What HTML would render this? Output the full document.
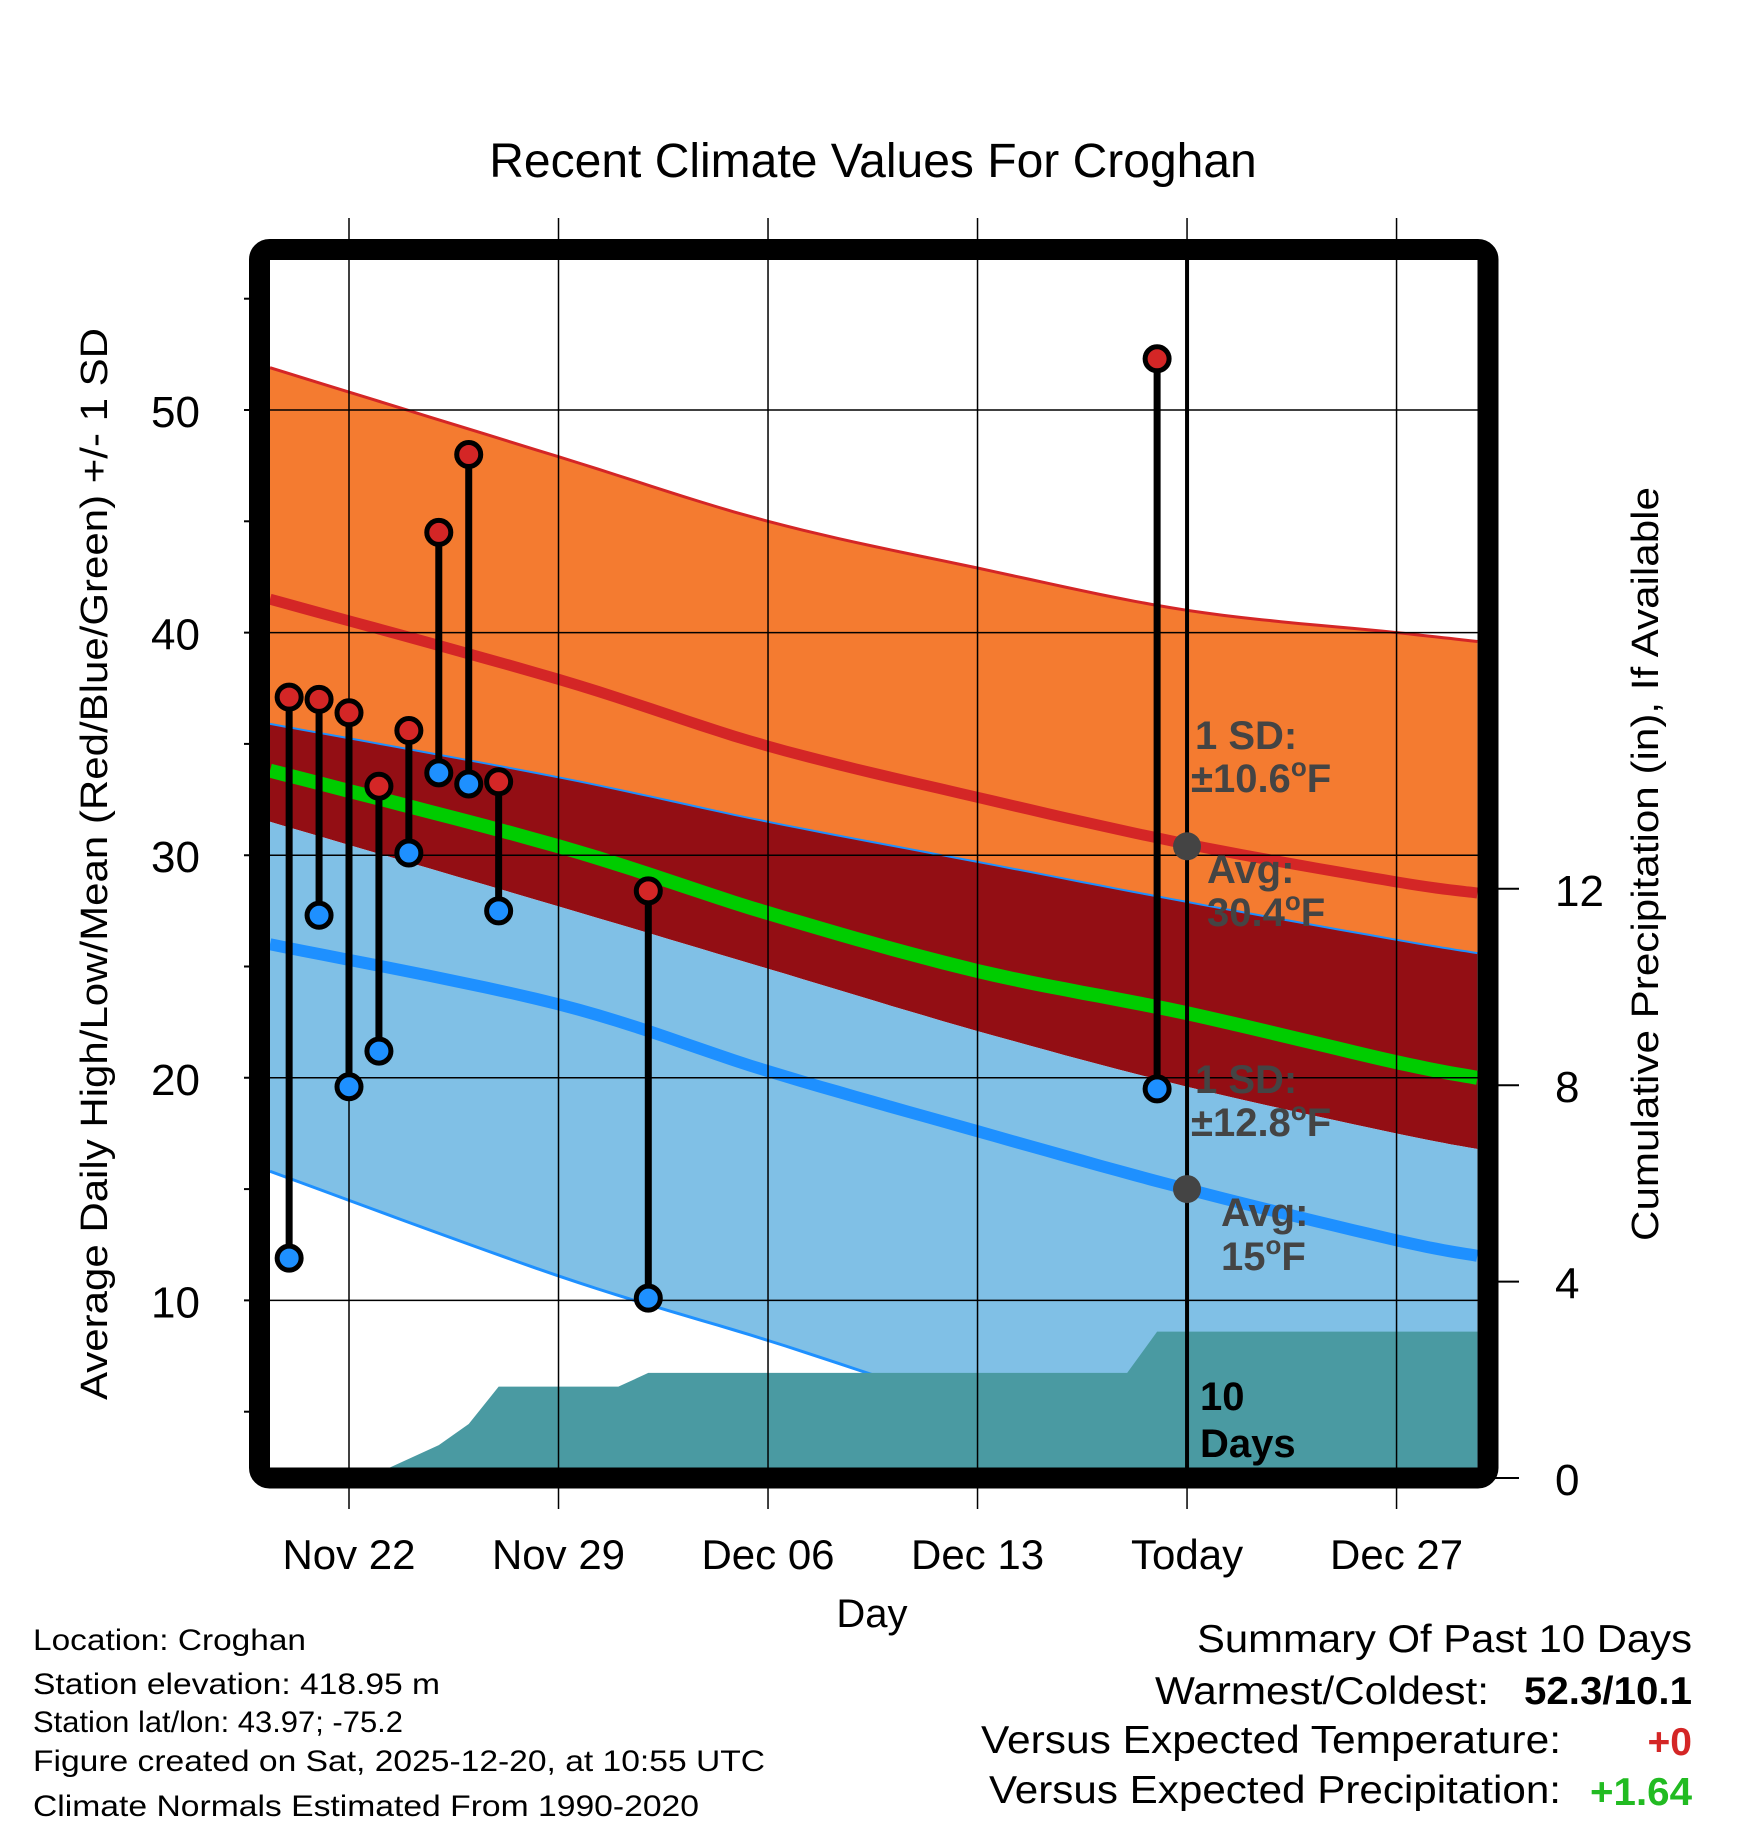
<!DOCTYPE html>
<html><head><meta charset="utf-8"><style>
body{margin:0;background:#fff}
svg{display:block;font-family:"Liberation Sans",Arial,sans-serif}
</style></head><body>
<svg id="chart" width="1748" height="1828" viewBox="0 0 1748 1828" xmlns="http://www.w3.org/2000/svg">
<defs><clipPath id="plotclip"><rect x="270" y="260" width="1208" height="1208"/></clipPath></defs>
<text x="873" y="177" font-size="48" text-anchor="middle">Recent Climate Values For Croghan</text>
<g id="bands" clip-path="url(#plotclip)"></g>
<g id="grid"></g>
<g id="marks"></g>
<g id="labels"></g>
<rect x="259.5" y="249.5" width="1228.5" height="1228.5" rx="10" fill="none" stroke="#000" stroke-width="21"/>
<text transform="translate(107,864) rotate(-90)" font-size="38" text-anchor="middle" textLength="1072" lengthAdjust="spacingAndGlyphs">Average Daily High/Low/Mean (Red/Blue/Green) +/- 1 SD</text>
<text transform="translate(1658,864) rotate(-90)" font-size="38" text-anchor="middle" textLength="754" lengthAdjust="spacingAndGlyphs">Cumulative Precipitation (in), If Available</text>
<text x="872" y="1627" font-size="40" text-anchor="middle">Day</text>
<g font-size="30">
<text x="33" y="1650" textLength="273" lengthAdjust="spacingAndGlyphs">Location: Croghan</text>
<text x="33" y="1694" textLength="407" lengthAdjust="spacingAndGlyphs">Station elevation: 418.95 m</text>
<text x="33" y="1732" textLength="370" lengthAdjust="spacingAndGlyphs">Station lat/lon: 43.97; -75.2</text>
<text x="33" y="1771" textLength="732" lengthAdjust="spacingAndGlyphs">Figure created on Sat, 2025-12-20, at 10:55 UTC</text>
<text x="33" y="1816" textLength="666" lengthAdjust="spacingAndGlyphs">Climate Normals Estimated From 1990-2020</text>
</g>
<g font-size="39">
<text x="1692" y="1652" text-anchor="end" textLength="495" lengthAdjust="spacingAndGlyphs">Summary Of Past 10 Days</text>
<text x="1489" y="1704" text-anchor="end" textLength="334" lengthAdjust="spacingAndGlyphs">Warmest/Coldest:</text>
<text x="1692" y="1704" text-anchor="end" font-weight="bold" textLength="168" lengthAdjust="spacingAndGlyphs">52.3/10.1</text>
<text x="1561" y="1753" text-anchor="end" textLength="580" lengthAdjust="spacingAndGlyphs">Versus Expected Temperature:</text>
<text x="1692" y="1755" text-anchor="end" font-weight="bold" fill="#d42626">+0</text>
<text x="1561" y="1803" text-anchor="end" textLength="572" lengthAdjust="spacingAndGlyphs">Versus Expected Precipitation:</text>
<text x="1692" y="1805" text-anchor="end" font-weight="bold" fill="#22bb22" textLength="102" lengthAdjust="spacingAndGlyphs">+1.64</text>
</g>
<g font-size="40" font-weight="bold" fill="#444">
<text x="1195" y="749">1 SD:</text>
<text x="1191" y="792">±10.6<tspan font-size="26" dy="-16">o</tspan><tspan dy="16">F</tspan></text>
<text x="1207" y="883">Avg:</text>
<text x="1207" y="926">30.4<tspan font-size="26" dy="-16">o</tspan><tspan dy="16">F</tspan></text>
<text x="1195" y="1093">1 SD:</text>
<text x="1191" y="1136">±12.8<tspan font-size="26" dy="-16">o</tspan><tspan dy="16">F</tspan></text>
<text x="1221" y="1226">Avg:</text>
<text x="1221" y="1270">15<tspan font-size="26" dy="-16">o</tspan><tspan dy="16">F</tspan></text>
<text x="1200" y="1410" fill="#000">10</text>
<text x="1200" y="1457" fill="#000">Days</text>
</g>
</svg>
<script>
// days relative to Nov 22 (0); Today = Dec 20 = 28
const bandDays   = [-2.64, 7, 14, 21, 28, 35, 37.7];
const sdTop      = [51.9, 47.9, 45.0, 42.9, 41.0, 40.0, 39.6];
const highMean   = [41.5, 37.9, 34.9, 32.6, 30.5, 28.8, 28.3];
const lowPlusSD  = [35.9, 33.5, 31.5, 29.7, 27.9, 26.2, 25.6];
const highMinSD  = [31.5, 27.7, 24.9, 22.1, 19.6, 17.5, 16.8];
const avgMean    = [33.8, 30.4, 27.4, 24.8, 22.9, 20.7, 20.0];
const lowMean    = [26.0, 23.3, 20.3, 17.6, 15.0, 12.7, 12.0];
const lowMinSD   = [15.8, 11.1, 8.2, 5.2, 3.0, 1.8, 1.5];
const obsDays    = [-2, -1, 0, 1, 2, 3, 4, 5, 10, 27];
const obsHigh    = [37.1, 37.0, 36.4, 33.1, 35.6, 44.5, 48.0, 33.3, 28.4, 52.3];
const obsLow     = [11.9, 27.3, 19.6, 21.2, 30.1, 33.7, 33.2, 27.5, 10.1, 19.5];
const precipDays = [-2.64, 0.6, 3, 4, 5, 9, 10, 26, 27, 37.7];
const precipCum  = [0, 0, 0.67, 1.1, 1.86, 1.86, 2.14, 2.14, 2.98, 2.98];
const xTickDays  = [0, 7, 14, 21, 28, 35];
const xTickLabels= ["Nov 22", "Nov 29", "Dec 06", "Dec 13", "Today", "Dec 27"];
const yTicks     = [10, 20, 30, 40, 50];
const yMinor     = [5, 15, 25, 35, 45, 55];
const y2Ticks    = [0, 4, 8, 12];
const todayDay   = 28;
const avgHighVal = 30.4, avgLowVal = 15;

const X = d => 349 + d * 29.93;
const Y = t => 410 + (50 - t) * 22.26;
const P = p => 1478 - p * 49.1;
const NS = "http://www.w3.org/2000/svg";
function mk(tag, attrs, parent){const e=document.createElementNS(NS,tag);for(const k in attrs)e.setAttribute(k,attrs[k]);parent.appendChild(e);return e;}
const bands=document.getElementById('bands'), grid=document.getElementById('grid'), marks=document.getElementById('marks'), labels=document.getElementById('labels');
// smooth rendering (Catmull-Rom) between the data knots
function smooth(arr){
  const px=bandDays.map(d=>X(d)), py=arr.map(v=>Y(v)), out=[];
  const n=px.length;
  for(let i=0;i<n-1;i++){
    const x0=px[Math.max(i-1,0)],y0=py[Math.max(i-1,0)],x1=px[i],y1=py[i],x2=px[i+1],y2=py[i+1],x3=px[Math.min(i+2,n-1)],y3=py[Math.min(i+2,n-1)];
    for(let s=0;s<12;s++){const t=s/12,t2=t*t,t3=t2*t;
      const f=(a,b,c,d)=>0.5*((2*b)+(-a+c)*t+(2*a-5*b+4*c-d)*t2+(-a+3*b-3*c+d)*t3);
      out.push(f(x0,x1,x2,x3).toFixed(1)+','+f(y0,y1,y2,y3).toFixed(1));}
  }
  out.push(px[n-1]+','+py[n-1]);
  return out;
}
function band(top,bot,fill,name){
  const p=mk('polygon',{points:smooth(top).concat(smooth(bot).reverse()).join(' '),fill:fill},bands);
  
  
}
function line(arr,color,w,name){
  const p=mk('polyline',{points:smooth(arr).join(' '),fill:'none',stroke:color,'stroke-width':w},bands);
  
  
}
band(sdTop,lowPlusSD,'#f47b30','high-sd-band');
band(lowPlusSD,highMinSD,'#930e14','overlap-band');
band(highMinSD,lowMinSD,'#80c0e6','low-sd-band');
line(sdTop,'#d42626',3,'high-sd-upper-line');
line(lowPlusSD,'#1e90ff',2,'low-sd-upper-line');
line(lowMinSD,'#1e90ff',3,'low-sd-lower-line');
line(highMean,'#d42626',11,'high-mean-line');
line(avgMean,'#00cc00',14,'mean-line');
line(lowMean,'#1e90ff',12,'low-mean-line');
const pp=precipDays.map((d,i)=>X(d)+','+P(precipCum[i]));
pp.push(X(37.7)+','+1478, X(-2.64)+','+1478);
const pa=mk('polygon',{points:pp.join(' '),fill:'#4a9aa2'},bands);


// grid
yTicks.forEach(t=>{
  const l=mk('line',{x1:270,x2:1478,y1:Y(t),y2:Y(t),stroke:'#000','stroke-width':1.5},grid);
  
  
  mk('line',{x1:244,x2:262,y1:Y(t),y2:Y(t),stroke:'#000','stroke-width':2},grid);
  const tx=mk('text',{x:200,y:Y(t)+17,'font-size':44,'text-anchor':'end'},labels);
  tx.textContent=t;
  
  
});
yMinor.forEach(t=>{
  const l=mk('line',{x1:244,x2:258,y1:Y(t),y2:Y(t),stroke:'#000','stroke-width':2},grid);
  
  
});
y2Ticks.forEach(p=>{
  const l=mk('line',{x1:1488,x2:1519,y1:P(p),y2:P(p),stroke:'#000','stroke-width':2},grid);
  
  
  const tx=mk('text',{x:1555,y:P(p)+17,'font-size':44},labels);
  tx.textContent=p;
  
  
});
xTickDays.forEach((d,i)=>{
  const l=mk('line',{x1:X(d),x2:X(d),y1:218,y2:1509,stroke:'#000','stroke-width':1.5},grid);
  
  
  const tx=mk('text',{x:X(d),y:1569,'font-size':42,'text-anchor':'middle'},labels);
  tx.textContent=xTickLabels[i];
  
  
});
// today line
const tl=mk('line',{x1:X(todayDay),x2:X(todayDay),y1:255,y2:1470,stroke:'#000','stroke-width':4},marks);


[avgHighVal,avgLowVal].forEach(v=>{
  const c=mk('circle',{cx:X(todayDay),cy:Y(v),r:14,fill:'#444'},marks);
  
  
});
// observations
obsDays.forEach((d,i)=>{
  const b=mk('line',{x1:X(d),x2:X(d),y1:Y(obsHigh[i]),y2:Y(obsLow[i]),stroke:'#000','stroke-width':7},marks);
  
  
});
obsDays.forEach((d,i)=>{
  const h=mk('circle',{cx:X(d),cy:Y(obsHigh[i]),r:12,fill:'#d42626',stroke:'#000','stroke-width':5},marks);
  
  
  const l=mk('circle',{cx:X(d),cy:Y(obsLow[i]),r:12,fill:'#1e90ff',stroke:'#000','stroke-width':5},marks);
  
  
});
</script>
</body></html>
